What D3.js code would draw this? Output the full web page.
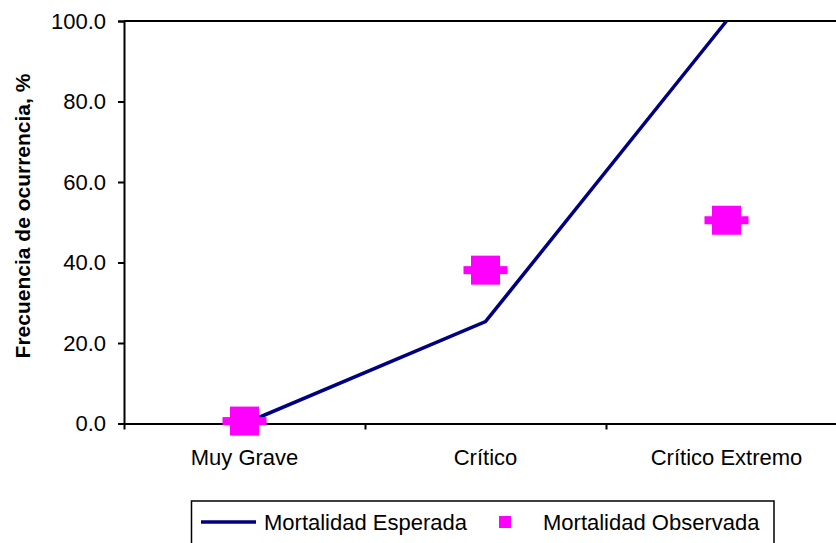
<!DOCTYPE html>
<html>
<head>
<meta charset="utf-8">
<script src="https://cdn.jsdelivr.net/npm/d3@7"></script>
<style>
  html, body { margin: 0; padding: 0; background: #fff; }
  svg { display: block; font-family: "Liberation Sans", Arial, sans-serif; }
</style>
</head>
<body>
<svg id="chart" width="836" height="543"></svg>
<script>
const categories = ["Muy Grave", "Crítico", "Crítico Extremo"];
const expected = [0.0, 25.3, 100.0];
const observed = [0.6, 38.1, 50.5];
const yTicks = [0, 20, 40, 60, 80, 100];
const seriesNames = ["Mortalidad Esperada", "Mortalidad Observada"];
const yTitle = "Frecuencia de ocurrencia, %";

const svg = d3.select("#chart");
const pLeft = 124, pTop = 21, pBottom = 423.5, bandW = 241;
const pRight = pLeft + bandW * categories.length;
const fs = 22;

const x = d3.scaleBand().domain(categories).range([pLeft, pRight]).padding(0);
const xEdge = d3.scaleLinear().domain([0, categories.length]).range([pLeft, pRight]);
const y = d3.scaleLinear().domain([0, 100]).range([pBottom, pTop]);

// top border of plot area
svg.append("line").attr("x1", pLeft).attr("x2", pRight).attr("y1", pTop).attr("y2", pTop)
  .attr("stroke", "#000").attr("stroke-width", 2);

// y axis
const yAxis = svg.append("g").attr("transform", `translate(${pLeft},0)`)
  .call(d3.axisLeft(y).tickValues(yTicks).tickFormat(d3.format(".1f")).tickSize(6).tickPadding(12));
yAxis.select(".domain").attr("stroke", "#000").attr("stroke-width", 2);
yAxis.selectAll(".tick line").attr("stroke", "#000").attr("stroke-width", 2);
yAxis.selectAll(".tick text").attr("font-size", fs).attr("fill", "#000")
  .attr("font-family", "Liberation Sans, Arial, sans-serif");

// x axis ticks (band edges)
const xTickAxis = svg.append("g").attr("transform", `translate(0,${pBottom})`)
  .call(d3.axisBottom(xEdge).tickValues(d3.range(categories.length + 1)).tickFormat("").tickSize(6).tickSizeOuter(0));
xTickAxis.select(".domain").attr("stroke", "#000").attr("stroke-width", 2);
xTickAxis.selectAll(".tick line").attr("stroke", "#000").attr("stroke-width", 2);

// x labels
const xLab = svg.append("g").attr("transform", `translate(0,${pBottom})`)
  .call(d3.axisBottom(x).tickSize(0).tickPadding(0));
xLab.select(".domain").remove();
xLab.selectAll(".tick text").attr("font-size", fs).attr("fill", "#000")
  .attr("font-family", "Liberation Sans, Arial, sans-serif")
  .attr("y", 41.5).attr("dy", 0);

// y title
svg.append("text")
  .attr("transform", `translate(30,216) rotate(-90)`)
  .attr("text-anchor", "middle")
  .attr("font-size", 21).attr("font-weight", "bold").attr("fill", "#000")
  .text(yTitle);

const cx = d => x(d) + x.bandwidth() / 2;

// expected line
const lineGen = d3.line().x((d, i) => cx(categories[i])).y(d => y(d));
svg.append("path").datum(expected).attr("d", lineGen)
  .attr("fill", "none").attr("stroke", "#000080").attr("stroke-width", 3.5)
  .attr("stroke-linejoin", "miter");

// observed markers
const mk = svg.append("g").selectAll("g").data(observed).join("g")
  .attr("transform", (d, i) => `translate(${cx(categories[i])},${y(d)})`);
mk.append("rect").attr("x", -22).attr("y", -4).attr("width", 44).attr("height", 8).attr("fill", "#FF00FF");
mk.append("rect").attr("x", -14.5).attr("y", -14.5).attr("width", 29).attr("height", 29).attr("fill", "#FF00FF");

// legend
const lg = svg.append("g");
lg.append("rect").attr("x", 191.5).attr("y", 501).attr("width", 582.5).attr("height", 60)
  .attr("fill", "#fff").attr("stroke", "#000").attr("stroke-width", 1.5);
lg.append("line").attr("x1", 201).attr("x2", 256).attr("y1", 522).attr("y2", 522)
  .attr("stroke", "#000080").attr("stroke-width", 3.5);
lg.append("text").attr("x", 264).attr("y", 530).attr("font-size", fs).attr("fill", "#000")
  .text(seriesNames[0]);
lg.append("rect").attr("x", 499).attr("y", 516).attr("width", 12).attr("height", 12).attr("fill", "#FF00FF");
lg.append("text").attr("x", 543).attr("y", 530).attr("font-size", fs).attr("fill", "#000")
  .text(seriesNames[1]);
</script>
</body>
</html>
